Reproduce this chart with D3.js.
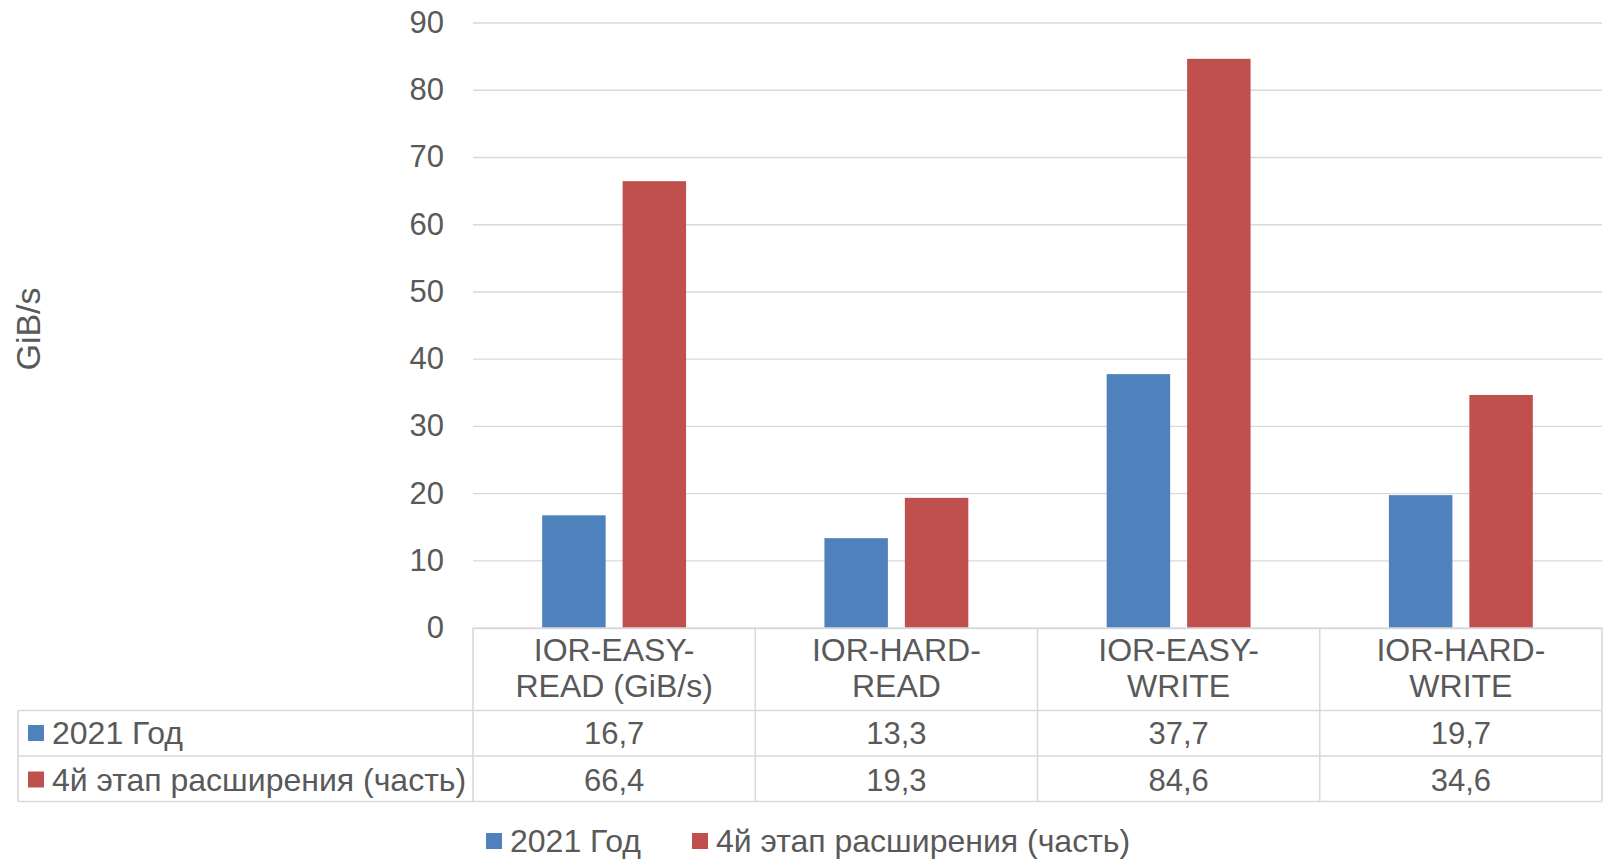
<!DOCTYPE html>
<html>
<head>
<meta charset="utf-8">
<script src="https://cdn.jsdelivr.net/npm/d3@7"></script>
<style>
  html, body { margin: 0; padding: 0; background: #ffffff; }
  svg { display: block; }
  text { font-family: "Liberation Sans", Arial, sans-serif; fill: #595959; }
</style>
</head>
<body>
<svg id="chart" width="1609" height="860"></svg>
<script>
// Chart data
const categories = [
  ["IOR-EASY-", "READ (GiB/s)"],
  ["IOR-HARD-", "READ"],
  ["IOR-EASY-", "WRITE"],
  ["IOR-HARD-", "WRITE"]
];
const seriesNames = ["2021 Год", "4й этап расширения (часть)"];
const series2021 = [16.7, 13.3, 37.7, 19.7];
const seriesStage4 = [66.4, 19.3, 84.6, 34.6];
const yTicks = [0, 10, 20, 30, 40, 50, 60, 70, 80, 90];
const yTitle = "GiB/s";
const colors = ["#4F81BD", "#C0504D"];

const seriesValues = [series2021, seriesStage4];
const fmt = v => String(v).replace(".", ",");

const svg = d3.select("#chart");
const numSize = 31;   // numbers: ticks and table values
const textSize = 32;  // word labels
const gridColor = "#D9D9D9";

// Layout
const plotLeft = 473, plotRight = 1602;
const plotTop = 22.5, plotBottom = 627.6;
const tableLeft = 18;
const headerBottom = 710.5, row1Bottom = 756, row2Bottom = 801.5;

const x = d3.scaleBand().domain(d3.range(categories.length)).range([plotLeft, plotRight]).padding(0);
const xs = d3.scaleBand().domain(d3.range(seriesNames.length)).range([0, x.bandwidth()])
  .paddingInner(0.211).paddingOuter(0.86);
const y = d3.scaleLinear().domain([0, 90]).range([plotBottom, plotTop]);

// Gridlines and tick labels
const yAxis = d3.axisLeft(y).tickValues(yTicks).tickSize(-(plotRight - plotLeft)).tickPadding(29).tickFormat(d => d);
const gy = svg.append("g").attr("transform", `translate(${plotLeft},0)`).call(yAxis);
gy.select(".domain").remove();
gy.selectAll(".tick line").attr("stroke", gridColor).attr("stroke-width", 1.4);
gy.selectAll(".tick text").attr("font-size", numSize).attr("fill", "#595959")
  .style("font-family", "'Liberation Sans', Arial, sans-serif");

// Bars
seriesValues.forEach((vals, si) => {
  svg.append("g").selectAll("rect").data(vals).join("rect")
    .attr("x", (d, i) => x(i) + xs(si))
    .attr("width", xs.bandwidth())
    .attr("y", d => y(d))
    .attr("height", d => y(0) - y(d))
    .attr("fill", colors[si]);
});

// Data table
const tg = svg.append("g");
const line = (x1, y1, x2, y2) => tg.append("line")
  .attr("x1", x1).attr("y1", y1).attr("x2", x2).attr("y2", y2)
  .attr("stroke", gridColor).attr("stroke-width", 1.6);

line(plotLeft, plotBottom + 0.8, plotRight, plotBottom + 0.8);
[headerBottom, row1Bottom, row2Bottom].forEach(yy => line(tableLeft, yy, plotRight, yy));
line(tableLeft, headerBottom, tableLeft, row2Bottom);
d3.range(categories.length + 1).forEach(i => {
  const xx = i < categories.length ? x(i) : plotRight;
  line(xx, plotBottom, xx, row2Bottom);
});

// Category header labels
categories.forEach((lines, i) => {
  const t = tg.append("text").attr("text-anchor", "middle").attr("font-size", textSize)
    .attr("x", x(i) + x.bandwidth() / 2);
  lines.forEach((l, k) => t.append("tspan").attr("x", x(i) + x.bandwidth() / 2).attr("y", 661 + k * 36).text(l));
});

// Value rows
const rowBaselines = [744, 790.5];
seriesValues.forEach((vals, si) => {
  tg.append("rect").attr("x", 28).attr("y", rowBaselines[si] - 19).attr("width", 16).attr("height", 16)
    .attr("fill", colors[si]);
  tg.append("text").attr("x", 52).attr("y", rowBaselines[si]).attr("font-size", textSize).text(seriesNames[si]);
  tg.selectAll(null).data(vals).join("text")
    .attr("text-anchor", "middle").attr("font-size", numSize)
    .attr("x", (d, i) => x(i) + x.bandwidth() / 2)
    .attr("y", rowBaselines[si])
    .text(d => fmt(d));
});

// Y axis title
svg.append("text").attr("font-size", 34).attr("text-anchor", "middle")
  .attr("transform", "translate(40,329) rotate(-90)").text(yTitle);

// Legend
const legend = svg.append("g");
const legendX = [486, 692];
seriesNames.forEach((name, si) => {
  legend.append("rect").attr("x", legendX[si]).attr("y", 833).attr("width", 16).attr("height", 16).attr("fill", colors[si]);
  legend.append("text").attr("x", legendX[si] + 24).attr("y", 852).attr("font-size", textSize).text(name);
});
</script>
</body>
</html>
